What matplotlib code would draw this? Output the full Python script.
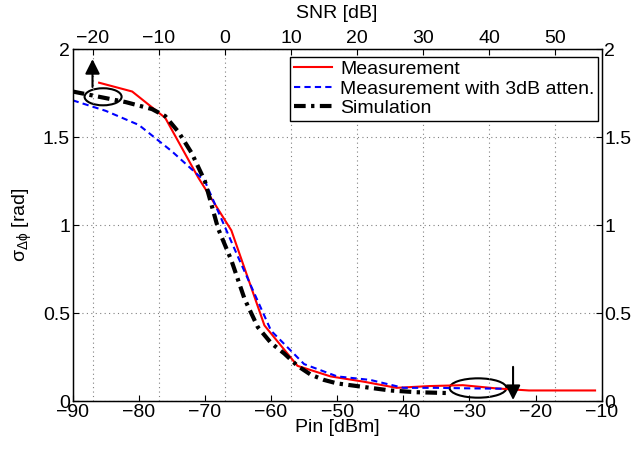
import matplotlib
matplotlib.use('Agg')
import matplotlib.pyplot as plt
from matplotlib.patches import Ellipse
import numpy as np

plt.rcParams['font.family'] = ['Liberation Sans', 'DejaVu Sans']
plt.rcParams['mathtext.fontset'] = 'custom'
plt.rcParams['mathtext.rm'] = 'Liberation Sans'
plt.rcParams['mathtext.it'] = 'Liberation Sans'
plt.rcParams['font.size'] = 14

# measured curve (red)
meas_pin = [-86, -81, -76, -71, -66, -61, -56, -51, -46, -41, -36, -31, -26, -21, -16, -11]
meas_sigma = [1.81, 1.76, 1.61, 1.27, 0.97, 0.43, 0.20, 0.14, 0.11, 0.075, 0.085, 0.09, 0.072, 0.06, 0.06, 0.06]

# measured with 3dB attenuator (blue)
att_pin = [-90, -85, -80, -75, -70, -65, -60, -55, -50, -45, -40, -35, -30, -25]
att_sigma = [1.71, 1.65, 1.57, 1.42, 1.25, 0.82, 0.40, 0.21, 0.14, 0.12, 0.075, 0.075, 0.072, 0.07]

# simulation (black dash-dot)
sim_pin = [-90, -86, -82, -78, -76, -74, -72, -70, -68, -66, -64, -62, -60, -58, -56, -54,
           -52, -50, -46, -42, -38, -33]
sim_sigma = [1.76, 1.73, 1.70, 1.66, 1.62, 1.53, 1.41, 1.25, 0.98, 0.80, 0.58, 0.42, 0.33,
             0.27, 0.20, 0.15, 0.12, 0.10, 0.08, 0.06, 0.05, 0.045]

snr_offset = 67  # SNR [dB] = Pin [dBm] + 67
snr_ticks = [-20, -10, 0, 10, 20, 30, 40, 50]

fig = plt.figure(figsize=(6.33, 4.54), dpi=100)
ax = fig.add_axes([0.1148, 0.1167, 0.8357, 0.7747])

ax.plot(meas_pin, meas_sigma, color='#ff0000', lw=1.5, label='Measurement')
ax.plot(att_pin, att_sigma, color='#0000ff', lw=1.5, dashes=(3, 2),
        label='Measurement with 3dB atten.')
ax.plot(sim_pin, sim_sigma, color='black', lw=3, dashes=(2.8, 1.3, 0.8, 1.3),
        label='Simulation')

ax.set_xlim(-90, -10)
ax.set_ylim(0, 2)
ax.set_xticks(np.arange(-90, -9, 10))
ax.set_yticks([0, 0.5, 1, 1.5, 2])
ax.set_yticklabels(['0', '0.5', '1', '1.5', '2'])
ax.tick_params(direction='in', right=True, labelright=True, length=4, width=0.8, pad=2)

# vertical grid follows the SNR ticks of the top axis
ax.set_xticks([s - snr_offset for s in snr_ticks], minor=True)
ax.tick_params(which='minor', length=0)
ax.grid(which='minor', axis='x', color='0.5', linestyle=(0, (1, 3)), lw=0.8)
ax.grid(which='major', axis='y', color='0.5', linestyle=(0, (1, 3)), lw=0.8)

ax.set_xlabel('Pin [dBm]', labelpad=-1)
ax.set_ylabel(r'$\sigma_{\Delta\phi}$ [rad]', labelpad=6)

for sp in ax.spines.values():
    sp.set_linewidth(1.0)

ax2 = ax.twiny()
ax2.set_xlim(-90 + snr_offset, -10 + snr_offset)
ax2.set_xticks(snr_ticks)
ax2.tick_params(direction='in', length=4, width=0.8, pad=2)
ax2.set_xlabel('SNR [dB]', labelpad=8)

leg = ax.legend(loc='upper right', bbox_to_anchor=(0.994, 0.979), borderaxespad=0,
                fancybox=False, framealpha=1, edgecolor='black', fontsize=14,
                handlelength=2.0, labelspacing=0.1, borderpad=0.2, handletextpad=0.4)
leg.get_frame().set_linewidth(1.0)

# annotations: ellipses and arrows
ax.add_patch(Ellipse((-85.4, 1.73), 5.6, 0.097, fill=False, ec='black', lw=1.5))
ax.add_patch(Ellipse((-28.7, 0.074), 8.6, 0.11, fill=False, ec='black', lw=1.5))
ax.annotate('', xy=(-87, 1.96), xytext=(-87, 1.77),
            arrowprops=dict(arrowstyle='-|>', color='black', lw=1.5, mutation_scale=22))
ax.annotate('', xy=(-23.4, -0.01), xytext=(-23.4, 0.21), annotation_clip=False,
            arrowprops=dict(arrowstyle='-|>', color='black', lw=1.5, mutation_scale=22))

fig.savefig('out.png', dpi=100)
